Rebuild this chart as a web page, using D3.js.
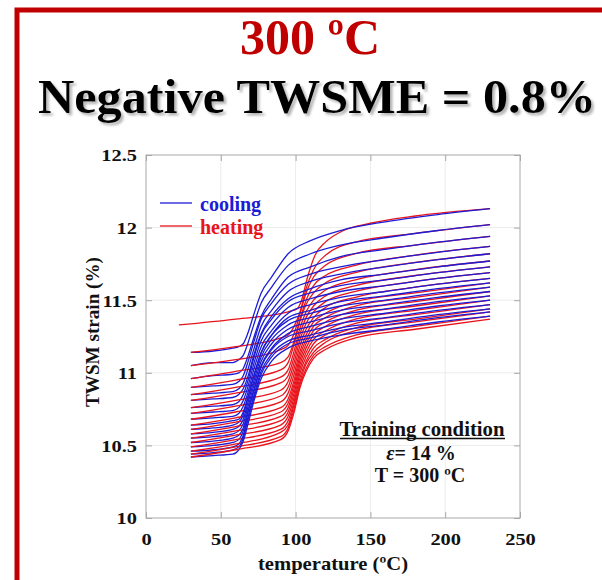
<!DOCTYPE html>
<html>
<head>
<meta charset="utf-8">
<script src="https://cdn.jsdelivr.net/npm/d3@7"></script>
<style>
  html, body { margin: 0; padding: 0; background: #fff; }
  svg { display: block; }
  text { font-family: "Liberation Serif", "Times New Roman", serif; font-weight: bold; }
</style>
</head>
<body>
<svg id="chart" width="602" height="580"></svg>
<script>
// Temperature grids (°C) shared by the cycle curves
const heatTemps = [30, 60, 90, 95, 99, 103, 107, 112, 120, 140, 180, 230];
const coolTemps = [30, 45, 58, 62, 65, 68, 72, 77, 84, 95, 110, 130, 160, 195, 230];

// First heating run from room temperature
const firstHeatTemps = [22, 60, 95, 101, 104, 108, 113, 120, 130, 150, 180, 230];
const firstHeating = [11.33, 11.37, 11.42, 11.44, 11.50, 11.66, 11.81, 11.90, 11.97, 12.03, 12.08, 12.13];

// Cooling runs, cycle 1..18 (strain %, on coolTemps)
const coolingCurves = [
  [11.14, 11.15, 11.17, 11.18, 11.20, 11.27, 11.40, 11.55, 11.66, 11.82, 11.91, 11.98, 12.04, 12.09, 12.13],
  [11.05, 11.07, 11.07, 11.09, 11.12, 11.20, 11.33, 11.48, 11.59, 11.74, 11.82, 11.88, 11.93, 11.98, 12.02],
  [10.96, 10.98, 10.99, 11.00, 11.03, 11.11, 11.24, 11.39, 11.51, 11.66, 11.73, 11.80, 11.85, 11.90, 11.94],
  [10.90, 10.91, 10.92, 10.94, 10.98, 11.07, 11.21, 11.37, 11.48, 11.61, 11.68, 11.73, 11.78, 11.83, 11.87],
  [10.85, 10.86, 10.87, 10.89, 10.93, 11.02, 11.16, 11.32, 11.43, 11.56, 11.63, 11.68, 11.73, 11.78, 11.82],
  [10.81, 10.82, 10.83, 10.85, 10.89, 10.97, 11.12, 11.27, 11.39, 11.51, 11.58, 11.64, 11.68, 11.73, 11.77],
  [10.76, 10.77, 10.78, 10.80, 10.85, 10.94, 11.10, 11.26, 11.37, 11.49, 11.55, 11.60, 11.64, 11.69, 11.73],
  [10.72, 10.73, 10.74, 10.76, 10.81, 10.90, 11.06, 11.22, 11.33, 11.45, 11.51, 11.56, 11.60, 11.65, 11.69],
  [10.68, 10.69, 10.70, 10.72, 10.77, 10.86, 11.02, 11.18, 11.29, 11.41, 11.47, 11.52, 11.56, 11.61, 11.65],
  [10.64, 10.65, 10.67, 10.68, 10.73, 10.83, 10.98, 11.14, 11.26, 11.38, 11.43, 11.49, 11.53, 11.58, 11.62],
  [10.61, 10.62, 10.64, 10.66, 10.71, 10.82, 10.97, 11.14, 11.26, 11.36, 11.41, 11.46, 11.50, 11.55, 11.59],
  [10.58, 10.59, 10.61, 10.63, 10.68, 10.79, 10.94, 11.11, 11.23, 11.33, 11.38, 11.43, 11.47, 11.52, 11.56],
  [10.55, 10.56, 10.58, 10.60, 10.65, 10.76, 10.91, 11.08, 11.20, 11.30, 11.35, 11.40, 11.44, 11.49, 11.53],
  [10.52, 10.53, 10.55, 10.57, 10.62, 10.73, 10.88, 11.05, 11.17, 11.27, 11.32, 11.37, 11.41, 11.46, 11.50],
  [10.49, 10.50, 10.52, 10.54, 10.60, 10.72, 10.87, 11.04, 11.16, 11.25, 11.29, 11.34, 11.38, 11.43, 11.47],
  [10.46, 10.47, 10.49, 10.51, 10.57, 10.69, 10.84, 11.01, 11.13, 11.22, 11.26, 11.31, 11.35, 11.40, 11.44],
  [10.44, 10.45, 10.47, 10.49, 10.55, 10.67, 10.82, 10.99, 11.11, 11.20, 11.24, 11.29, 11.33, 11.38, 11.42],
  [10.42, 10.43, 10.44, 10.47, 10.53, 10.64, 10.80, 10.96, 11.08, 11.17, 11.22, 11.26, 11.30, 11.35, 11.39]
];

// Heating runs, cycle 1..18 (strain %, on heatTemps)
const heatingCurves = [
  [11.14, 11.18, 11.24, 11.26, 11.32, 11.42, 11.58, 11.71, 11.81, 11.90, 11.96, 12.02],
  [11.05, 11.09, 11.16, 11.19, 11.27, 11.41, 11.55, 11.66, 11.74, 11.82, 11.88, 11.94],
  [10.96, 11.01, 11.07, 11.11, 11.22, 11.37, 11.50, 11.60, 11.67, 11.74, 11.81, 11.87],
  [10.90, 10.95, 11.02, 11.07, 11.20, 11.36, 11.47, 11.55, 11.62, 11.69, 11.76, 11.82],
  [10.85, 10.90, 10.97, 11.02, 11.15, 11.31, 11.42, 11.50, 11.57, 11.64, 11.71, 11.77],
  [10.81, 10.86, 10.93, 10.98, 11.11, 11.27, 11.38, 11.46, 11.53, 11.60, 11.67, 11.73],
  [10.76, 10.81, 10.88, 10.94, 11.07, 11.23, 11.34, 11.42, 11.49, 11.56, 11.63, 11.69],
  [10.72, 10.77, 10.84, 10.90, 11.03, 11.19, 11.30, 11.38, 11.45, 11.52, 11.59, 11.65],
  [10.68, 10.73, 10.80, 10.86, 10.99, 11.15, 11.26, 11.35, 11.41, 11.49, 11.55, 11.62],
  [10.64, 10.69, 10.76, 10.82, 10.95, 11.12, 11.23, 11.32, 11.38, 11.46, 11.52, 11.59],
  [10.61, 10.66, 10.73, 10.79, 10.92, 11.09, 11.20, 11.29, 11.35, 11.43, 11.49, 11.56],
  [10.58, 10.63, 10.70, 10.76, 10.89, 11.06, 11.17, 11.26, 11.32, 11.40, 11.46, 11.53],
  [10.55, 10.60, 10.67, 10.73, 10.86, 11.03, 11.14, 11.23, 11.29, 11.37, 11.43, 11.50],
  [10.52, 10.57, 10.64, 10.70, 10.83, 11.00, 11.11, 11.20, 11.26, 11.34, 11.40, 11.47],
  [10.49, 10.54, 10.61, 10.67, 10.80, 10.97, 11.08, 11.17, 11.23, 11.31, 11.37, 11.44],
  [10.46, 10.51, 10.59, 10.64, 10.78, 10.94, 11.06, 11.14, 11.21, 11.29, 11.35, 11.42],
  [10.44, 10.49, 10.56, 10.62, 10.75, 10.92, 11.03, 11.12, 11.18, 11.26, 11.32, 11.39],
  [10.42, 10.47, 10.54, 10.60, 10.73, 10.90, 11.01, 11.10, 11.16, 11.24, 11.30, 11.37]
];

const xTicks = [0, 50, 100, 150, 200, 250];
const yTicks = [10, 10.5, 11, 11.5, 12, 12.5];
const legendItems = ["cooling", "heating"];
const titleLines = ["300 ºC", "Negative TWSME = 0.8%"];
const trainingLines = ["Training condition", "= 14 %", "T = 300 ºC"];

const COOL = "#1c1cd6", HEAT = "#e8141c", FRAME = "#c00000";

const svg = d3.select("#chart");
const defs = svg.append("defs");
const sh = defs.append("filter").attr("id", "shadow")
  .attr("x", "-5%").attr("y", "-20%").attr("width", "115%").attr("height", "150%");
sh.append("feDropShadow").attr("dx", 2.5).attr("dy", 2.5)
  .attr("stdDeviation", 1.3).attr("flood-color", "#777").attr("flood-opacity", 0.55);

// Red slide frame (top and left edges)
svg.append("path")
  .attr("d", "M17,580 L17,10 L602,10")
  .attr("fill", "none").attr("stroke", FRAME).attr("stroke-width", 5);

// Titles
svg.append("text").attr("x", 310).attr("y", 54).attr("text-anchor", "middle")
  .attr("font-size", 50).attr("fill", FRAME).text(titleLines[0]);
svg.append("text").attr("x", 317).attr("y", 113).attr("text-anchor", "middle")
  .attr("font-size", 48).attr("fill", "#000").attr("filter", "url(#shadow)")
  .attr("textLength", 558).attr("lengthAdjust", "spacingAndGlyphs")
  .text(titleLines[1]);

// Plot area
const pLeft = 146, pRight = 520, pTop = 155, pBottom = 518;
const x = d3.scaleLinear().domain([0, 250]).range([pLeft, pRight]);
const y = d3.scaleLinear().domain([10, 12.5]).range([pBottom, pTop]);

// faint grid
const grid = svg.append("g");
grid.selectAll(".gx").data(xTicks.slice(1, -1)).enter().append("line")
  .attr("x1", d => x(d)).attr("x2", d => x(d)).attr("y1", pTop).attr("y2", pBottom)
  .attr("stroke", "#ececec").attr("stroke-width", 1);
grid.selectAll(".gy").data(yTicks.slice(1, -1)).enter().append("line")
  .attr("x1", pLeft).attr("x2", pRight).attr("y1", d => y(d)).attr("y2", d => y(d))
  .attr("stroke", "#ececec").attr("stroke-width", 1);

// box
svg.append("rect").attr("x", pLeft).attr("y", pTop)
  .attr("width", pRight - pLeft).attr("height", pBottom - pTop)
  .attr("fill", "none").attr("stroke", "#a8a8a8").attr("stroke-width", 1);

// axes with inward ticks
const axStyle = g => {
  g.select(".domain").remove();
  g.selectAll(".tick line").attr("stroke", "#a8a8a8");
};
const gx = svg.append("g").attr("transform", `translate(0,${pBottom})`)
  .call(d3.axisBottom(x).tickValues(xTicks).tickSize(-6).tickPadding(14).tickFormat(d3.format("d")))
  .call(axStyle);
const gy = svg.append("g").attr("transform", `translate(${pLeft},0)`)
  .call(d3.axisLeft(y).tickValues(yTicks).tickSize(-6).tickPadding(9).tickFormat(d => String(d)))
  .call(axStyle);
svg.append("g").attr("transform", `translate(0,${pTop})`)
  .call(d3.axisTop(x).tickValues(xTicks).tickSize(-6).tickFormat(""))
  .call(axStyle);
svg.append("g").attr("transform", `translate(${pRight},0)`)
  .call(d3.axisRight(y).tickValues(yTicks).tickSize(-6).tickFormat(""))
  .call(axStyle);

[gx, gy].forEach(g => g.selectAll(".tick text")
  .attr("font-family", "Liberation Serif, Times New Roman, serif")
  .attr("font-weight", "bold").attr("font-size", 17).attr("fill", "#111"));
gx.selectAll(".tick text").attr("dy", null).attr("y", 27);
gy.selectAll(".tick text").attr("dy", "0.35em");
// widen tick labels slightly
[gx, gy].forEach(g => g.selectAll(".tick text").each(function () {
  const w = this.getComputedTextLength();
  d3.select(this).attr("textLength", w * 1.2).attr("lengthAdjust", "spacingAndGlyphs");
}));

// Axis titles
svg.append("text").attr("x", 333).attr("y", 570).attr("text-anchor", "middle")
  .attr("font-size", 19).attr("fill", "#111")
  .attr("textLength", 150).attr("lengthAdjust", "spacingAndGlyphs")
  .text("temperature (ºC)");
svg.append("text").attr("transform", "translate(99,332) rotate(-90)")
  .attr("text-anchor", "middle").attr("font-size", 18).attr("fill", "#111")
  .attr("textLength", 150).attr("lengthAdjust", "spacingAndGlyphs")
  .text("TWSM strain (%)");

// Curves, drawn in the order they were run
const line = d3.line().x(d => x(d[0])).y(d => y(d[1])).curve(d3.curveMonotoneX);
const runs = [];
runs.push({ color: HEAT, pts: firstHeatTemps.map((t, i) => [t, firstHeating[i]]) });
coolingCurves.forEach((c, k) => {
  runs.push({ color: COOL, pts: coolTemps.map((t, i) => [t, c[i]]) });
  runs.push({ color: HEAT, pts: heatTemps.map((t, i) => [t, heatingCurves[k][i]]) });
});
svg.append("g").selectAll("path").data(runs).enter().append("path")
  .attr("d", d => line(d.pts))
  .attr("fill", "none").attr("stroke", d => d.color)
  .attr("stroke-width", 1.3).attr("stroke-linejoin", "round");

// Legend
const lg = svg.append("g");
[COOL, HEAT].forEach((col, i) => {
  const yy = 203 + i * 23;
  lg.append("line").attr("x1", 160).attr("x2", 192).attr("y1", yy).attr("y2", yy)
    .attr("stroke", col).attr("stroke-width", 1.3);
  lg.append("text").attr("x", 200).attr("y", yy + 8).attr("font-size", 20)
    .attr("fill", col).text(legendItems[i]);
});

// Training condition note
const note = svg.append("g").attr("fill", "#111");
note.append("text").attr("x", 422).attr("y", 436).attr("text-anchor", "middle")
  .attr("font-size", 20)
  .attr("textLength", 165).attr("lengthAdjust", "spacingAndGlyphs")
  .text(trainingLines[0]);
note.append("line").attr("x1", 340).attr("x2", 505).attr("y1", 438.5).attr("y2", 438.5)
  .attr("stroke", "#111").attr("stroke-width", 1.6);
const eps = note.append("text").attr("x", 421).attr("y", 460).attr("text-anchor", "middle")
  .attr("font-size", 20);
eps.append("tspan").attr("font-style", "italic").text("ε");
eps.append("tspan").text(trainingLines[1]);
note.append("text").attr("x", 420).attr("y", 482).attr("text-anchor", "middle")
  .attr("font-size", 20).text(trainingLines[2]);
</script>
</body>
</html>
